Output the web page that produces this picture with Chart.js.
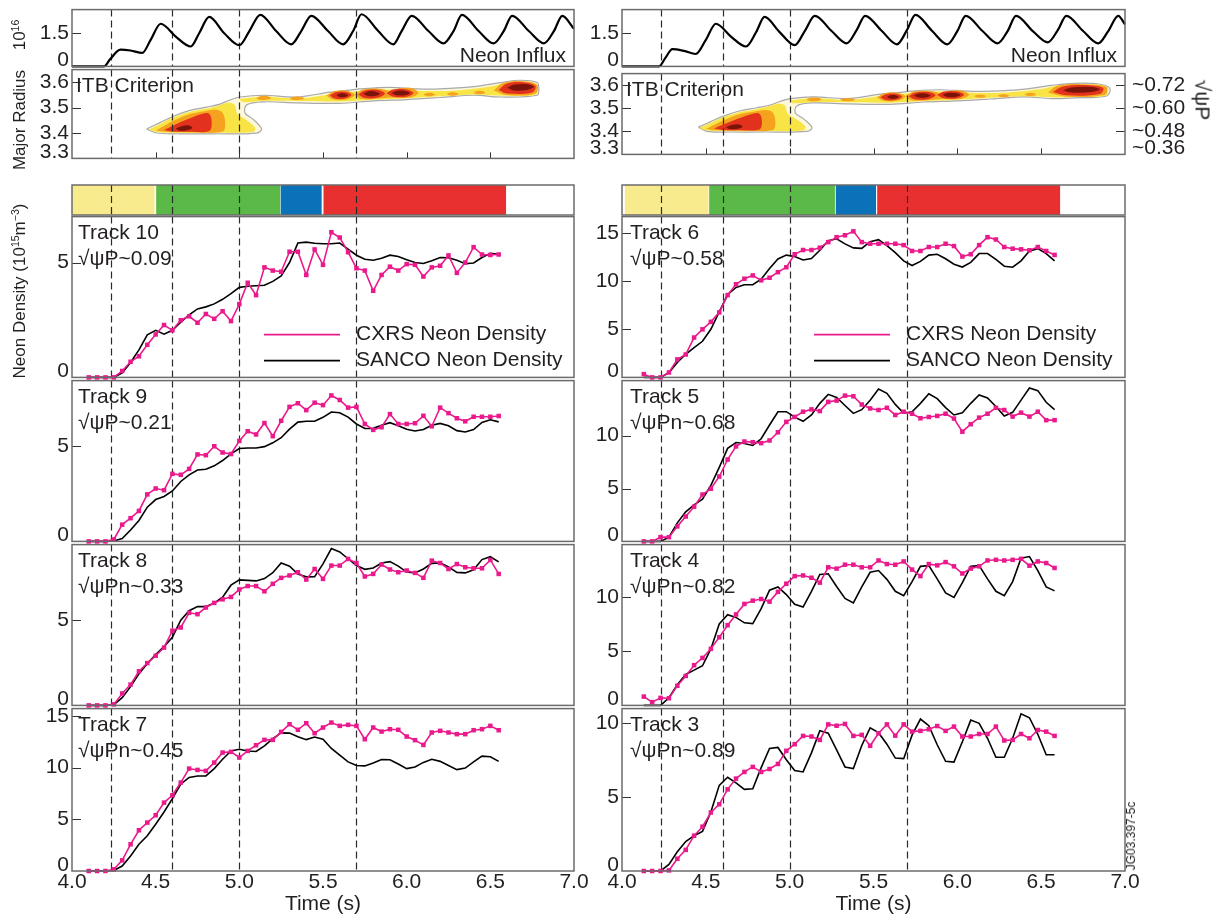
<!DOCTYPE html>
<html><head><meta charset="utf-8">
<script src="https://cdn.jsdelivr.net/npm/chart.js@4.4.1/dist/chart.umd.min.js"></script>
<style>
html,body{margin:0;padding:0;background:#fff;}
#page{position:relative;width:1230px;height:920px;overflow:hidden;font-family:'Liberation Sans',Arial,Helvetica,sans-serif;color:#231f20;}
canvas{position:absolute;}
.rot{position:absolute;white-space:nowrap;line-height:1;transform:translate(-50%,-50%) rotate(-90deg);z-index:5;}
.rot90{position:absolute;white-space:nowrap;line-height:1;transform:translate(-50%,-50%) rotate(90deg);z-index:5;}
sup{font-size:0.62em;vertical-align:0.5em;line-height:0;}
</style></head><body><div id="page">
<div class="rot" style="left:19px;top:35px;font-size:17px">10<sup>16</sup></div>
<div class="rot" style="left:19px;top:120px;font-size:17px">Major Radius</div>
<div class="rot" style="left:19px;top:291px;font-size:17px">Neon Density (10<sup>15</sup>m<sup>−3</sup>)</div>
<div class="rot90" style="left:1203px;top:100px;font-size:21px">√ψP</div>
<div class="rot" style="left:1131px;top:836px;font-size:12px">JG03.397-5c</div>
</div>
<script>
// ---------------- DATA ----------------
const xTickVals = [4.0, 4.5, 5.0, 5.5, 6.0, 6.5, 7.0];
const xTitle = 'Time (s)';
const dashTimes = [4.235, 4.6, 5.0, 5.7];

const influxTimeL = [4.00,4.19,4.23,4.29,4.35,4.42,4.47,4.53,4.62,4.71,4.76,4.82,4.91,5.00,5.06,5.125,5.22,5.31,5.37,5.43,5.53,5.62,5.68,5.73,5.83,5.92,5.97,6.03,6.13,6.22,6.28,6.33,6.43,6.52,6.58,6.63,6.73,6.82,6.88,6.93,7.00];
const influxValL  = [0,0,0.35,0.76,0.72,0.61,1.2,1.93,1.35,0.9,1.5,2.24,1.5,0.96,1.6,2.33,1.6,1.0,1.6,2.29,1.6,1.0,1.6,2.36,1.6,1.0,1.6,2.29,1.6,1.04,1.6,2.33,1.6,1.04,1.6,2.29,1.6,1.04,1.6,2.29,1.7];
const influxTimeR = [4.00,4.22,4.26,4.30,4.37,4.44,4.50,4.56,4.65,4.74,4.80,4.85,4.94,5.03,5.09,5.15,5.25,5.34,5.40,5.45,5.55,5.64,5.70,5.75,5.85,5.94,6.00,6.05,6.15,6.24,6.30,6.35,6.45,6.54,6.60,6.65,6.75,6.84,6.90,6.96,7.00];
const influxValR  = [0,0,0.4,0.78,0.7,0.56,1.2,1.93,1.35,0.9,1.55,2.24,1.55,0.96,1.6,2.29,1.6,1.04,1.65,2.29,1.6,1.0,1.65,2.33,1.6,1.0,1.6,2.29,1.6,1.04,1.6,2.29,1.6,1.09,1.65,2.29,1.6,1.04,1.6,2.29,1.9];

const timeL = [4.10,4.15,4.20,4.25,4.30,4.35,4.40,4.45,4.50,4.55,4.60,4.65,4.70,4.75,4.80,4.85,4.90,4.95,5.00,5.05,5.10,5.15,5.20,5.25,5.30,5.35,5.40,5.45,5.50,5.55,5.60,5.65,5.70,5.75,5.80,5.85,5.90,5.95,6.00,6.05,6.10,6.15,6.20,6.25,6.30,6.35,6.40,6.45,6.50,6.55];
const timeR = [4.13,4.18,4.23,4.28,4.33,4.38,4.43,4.48,4.53,4.58,4.63,4.68,4.73,4.78,4.83,4.88,4.93,4.98,5.03,5.08,5.13,5.18,5.23,5.28,5.33,5.38,5.43,5.48,5.53,5.58,5.63,5.68,5.73,5.78,5.83,5.88,5.93,5.98,6.03,6.08,6.13,6.18,6.23,6.28,6.33,6.38,6.43,6.48,6.53,6.58];

const cxrsT10 = [0,0,0,0,0.28,0.68,0.92,1.42,1.87,2.28, 2.05,2.49,2.66,2.38,2.76,2.55,2.88,2.45,3.19,4.12, 3.58,4.79,4.65,4.60,5.47,5.47,4.46,5.57,4.90,6.32, 6.09,5.45,4.75,4.65,3.77,4.46,4.82,4.65,4.93,4.90, 4.39,4.79,4.86,5.31,4.55,5.0,5.67,5.35,5.33,5.35];
const sancoT10 = [0,0,0,0,0.2,0.65,1.2,1.85,2.05,1.88, 2.05,2.4,2.72,2.98,3.07,3.2,3.4,3.65,3.92,3.97, 3.99,4.01,4.18,4.42,5.0,5.85,5.89,5.84,5.82,5.82, 5.85,5.58,5.32,5.14,5.10,5.19,5.32,5.26,5.12,5.0, 4.96,5.08,5.22,5.21,5.1,4.95,4.98,5.22,5.4,5.36];
const cxrsT9 = [0,0,0,0.1,0.88,1.22,1.60,2.47,2.78,2.69, 3.55,3.50,3.81,4.57,4.53,5.0,4.67,4.59,5.28,5.79, 5.62,6.22,5.53,6.34,7.07,7.26,6.90,7.29,7.16,7.67, 7.43,7.03,7.07,6.17,5.86,6.0,6.69,6.17,6.17,6.21, 6.60,6.05,7.03,6.74,6.47,6.31,6.55,6.55,6.55,6.59];
const sancoT9 = [0,0,0,0.02,0.15,0.6,1.1,1.8,2.2,2.36, 2.65,3.15,3.5,3.75,3.79,3.97,4.25,4.6,4.88,4.91, 4.91,4.98,5.18,5.45,5.9,6.27,6.31,6.31,6.52,6.8, 6.76,6.53,6.17,5.93,5.94,6.1,6.24,6.08,5.89,5.8, 5.88,6.1,6.2,6.08,5.82,5.75,5.88,6.25,6.39,6.28];
const cxrsT8 = [0,0,0,0.06,0.70,1.22,2.0,2.48,2.91,3.39, 4.38,4.57,5.43,5.35,5.74,6.01,6.22,6.36,6.80,7.0, 7.0,6.69,7.13,7.48,7.62,7.81,7.38,8.0,7.42,8.20, 8.20,8.59,8.35,7.56,7.71,8.26,7.97,7.81,7.91,7.77, 7.48,8.49,8.35,8.0,8.29,8.10,8.04,8.04,8.53,7.71];
const sancoT8 = [0,0,0,0.04,0.45,1.1,1.85,2.45,2.98,3.45, 4.0,5.0,5.55,5.8,5.79,6.0,6.35,7.05,7.36,7.33, 7.3,7.44,7.78,8.35,8.16,7.7,7.54,7.55,8.3,9.2, 9.0,8.6,8.2,7.98,8.06,8.35,8.43,8.17,7.82,7.77, 8.0,8.33,8.36,8.12,7.8,7.77,7.95,8.55,8.72,8.42];
const cxrsT7 = [0,0,0,0.16,1.03,2.58,3.94,4.68,5.39,6.61, 7.32,8.55,9.90,9.77,9.68,10.48,11.45,11.52,10.97,11.61, 12.16,12.68,12.68,13.45,14.19,13.65,14.29,13.32,13.87,14.35, 14.03,14.13,14.03,12.74,13.87,13.48,13.71,13.65,13.0,12.65, 12.19,13.39,13.55,13.39,13.23,13.23,13.61,13.71,14.03,13.61];
const sancoT7 = [0,0,0,0.05,0.48,1.45,2.58,3.4,4.52,5.7, 7.0,8.4,9.05,9.18,9.19,9.9,10.8,11.6,11.77,11.6, 11.55,12.1,12.8,13.35,13.33,12.98,12.7,12.95,12.75,11.85, 11.2,10.55,10.2,10.16,10.45,10.78,10.76,10.35,9.9,10.05, 10.5,10.8,10.6,10.2,9.8,9.95,10.55,11.1,11.05,10.6];

const cxrsT6 = [0.34,0,0,0.51,1.87,2.38,4.14,4.99,5.77,6.75, 8.55,9.67,10.25,10.59,10.08,10.35,10.93,11.44,12.79,13.23, 13.23,13.47,14.05,14.56,14.76,15.17,14.05,13.88,13.88,13.88, 13.88,13.74,13.13,13.13,13.54,13.54,13.88,13.64,12.55,12.79, 13.74,14.56,14.32,13.54,13.37,13.30,13.20,13.54,13.13,12.72];
const sancoT6 = [0,0,0,0.5,1.55,2.4,3.1,3.75,5.0,6.8, 8.6,9.35,9.63,9.64,10.2,11.3,12.3,12.7,12.55,12.2, 12.35,13.2,14.2,14.39,13.87,13.45,13.4,14.1,14.3,13.68, 12.96,12.1,11.62,12.05,12.7,12.79,12.32,11.75,11.46,11.95, 12.86,12.86,12.25,11.55,11.44,12.11,13.13,13.37,12.85,12.1];
const cxrsT5 = [0,0,0.40,0.40,1.42,2.35,3.28,4.43,4.98,6.13, 7.74,8.98,9.44,9.38,9.29,9.54,10.31,11.30,11.77,12.26, 12.48,12.32,13.19,13.31,13.78,13.72,12.94,12.57,12.42,12.63, 11.95,12.26,12.07,11.64,11.76,11.86,12.07,11.61,10.37,11.08, 11.70,12.07,12.63,12.42,11.80,12.17,11.80,12.26,11.46,11.46];
const sancoT5 = [0,0,0,0.4,1.75,2.8,3.45,4.0,5.3,7.0, 8.8,9.35,9.25,9.07,9.7,11.0,12.25,12.26,11.75,11.35, 11.95,13.05,13.9,13.6,12.85,12.1,12.45,13.35,14.4,14.0, 12.95,12.12,12.25,13.05,13.95,13.5,12.65,11.95,12.15,13.05, 13.85,13.55,12.75,11.85,12.2,13.35,14.5,14.25,13.15,12.45];
const cxrsT4 = [0.81,0.30,0.69,0.66,1.81,2.71,3.70,4.37,5.21,6.27, 7.38,8.37,9.34,9.64,9.79,9.55,10.45,11.20,11.90,11.96, 11.75,11.30,12.71,12.59,12.95,12.95,12.71,12.71,13.34,13.01, 12.95,13.25,12.50,11.90,13.01,12.89,13.19,12.80,12.14,12.59, 12.80,13.34,13.40,13.34,13.40,13.49,12.86,13.25,13.10,12.65];
const sancoT4 = [0,0,0,0.7,1.9,2.85,3.25,3.65,5.2,7.5, 8.35,8.1,7.6,7.53,8.9,10.6,10.9,10.2,9.3,9.05, 10.5,12.05,12.11,10.95,9.85,9.43,10.9,12.25,12.41,11.6, 10.5,10.1,11.4,12.8,12.86,11.65,10.35,9.94,11.3,12.8, 12.86,11.65,10.5,10.1,11.4,13.55,13.7,12.4,10.9,10.54];
const cxrsT3 = [0,0,0,0.04,0.83,1.43,2.39,3.0,3.96,4.52, 5.53,6.26,6.71,7.05,6.71,6.91,7.25,8.14,8.59,9.15, 9.11,8.88,9.93,9.84,9.96,9.15,9.22,8.48,9.33,9.93, 9.17,9.93,9.44,9.49,9.60,9.82,9.49,9.78,9.11,9.11, 9.28,9.28,9.78,8.84,8.88,9.28,8.99,9.55,9.44,9.15];
const sancoT3 = [0,0,0,0.45,1.3,2.0,2.39,2.68,4.0,5.8, 6.35,5.97,5.53,5.57,7.0,8.3,8.37,7.54,6.8,6.71, 8.0,9.5,9.33,8.21,7.05,6.94,8.5,9.7,9.37,8.59, 7.65,7.61,9.2,10.29,9.84,8.55,7.43,7.38,8.75,10.22, 10.0,8.99,7.7,7.7,8.99,10.65,10.38,9.26,7.87,7.87];

const phaseColors = ['#f8eb8e', '#5bb947', '#0b71b9', '#e7302f'];
const phaseStartL = [4.0, 4.503, 5.247, 5.503];
const phaseEndL   = [4.493, 5.244, 5.492, 6.594];
const phaseStartR = [4.017, 4.52, 5.275, 5.522];
const phaseEndR   = [4.516, 5.27, 5.515, 6.613];

// ITB criterion contour regions: [time, major radius]
const itbOuterL = [[4.446,3.416],[4.526,3.441],[4.605,3.466],[4.705,3.489],[4.805,3.502],[4.884,3.514],[4.944,3.530],[5.004,3.542],[5.143,3.549],[5.343,3.542],[5.542,3.561],[5.661,3.569],[5.72,3.574],[5.90,3.580],[6.06,3.574],[6.20,3.574],[6.40,3.583],[6.56,3.599],[6.68,3.608],[6.78,3.599],[6.79,3.575],[6.78,3.549],[6.56,3.542],[6.40,3.549],[6.20,3.540],[6.00,3.532],[5.80,3.527],[5.60,3.517],[5.343,3.519],[5.143,3.523],[5.044,3.511],[5.034,3.479],[5.083,3.454],[5.133,3.416],[5.104,3.400],[4.845,3.397],[4.645,3.397],[4.506,3.400]];
const itbOuterR = [[4.456,3.418],[4.526,3.441],[4.605,3.466],[4.705,3.489],[4.805,3.502],[4.884,3.514],[4.944,3.530],[5.004,3.542],[5.143,3.549],[5.343,3.542],[5.542,3.561],[5.661,3.569],[5.72,3.574],[5.90,3.580],[6.06,3.574],[6.20,3.574],[6.40,3.583],[6.56,3.599],[6.70,3.608],[6.85,3.604],[6.91,3.585],[6.89,3.553],[6.70,3.545],[6.56,3.542],[6.40,3.549],[6.20,3.540],[6.00,3.532],[5.80,3.527],[5.60,3.517],[5.343,3.519],[5.143,3.523],[5.044,3.511],[5.034,3.479],[5.083,3.454],[5.133,3.416],[5.104,3.400],[4.845,3.397],[4.645,3.397],[4.506,3.400]];
const itbYellowMain = [[4.46,3.414],[4.53,3.437],[4.6,3.46],[4.7,3.483],[4.8,3.496],[4.87,3.507],[4.93,3.519],[4.97,3.512],[4.99,3.475],[5.04,3.452],[5.095,3.42],[5.08,3.404],[4.85,3.401],[4.6,3.401],[4.5,3.405]];
const itbYellowBandL = [[5.0,3.534],[5.15,3.543],[5.35,3.536],[5.55,3.553],[5.7,3.564],[5.9,3.572],[6.1,3.566],[6.3,3.568],[6.5,3.583],[6.6,3.598],[6.7,3.601],[6.77,3.593],[6.775,3.553],[6.6,3.547],[6.4,3.552],[6.2,3.545],[6.0,3.537],[5.8,3.531],[5.6,3.524],[5.4,3.526],[5.15,3.527],[5.02,3.522]];
const itbYellowBandR = [[5.0,3.534],[5.15,3.543],[5.35,3.536],[5.55,3.553],[5.7,3.564],[5.9,3.572],[6.1,3.566],[6.3,3.568],[6.5,3.583],[6.6,3.598],[6.75,3.602],[6.88,3.596],[6.89,3.556],[6.7,3.549],[6.6,3.547],[6.4,3.552],[6.2,3.545],[6.0,3.537],[5.8,3.531],[5.6,3.524],[5.4,3.526],[5.15,3.527],[5.02,3.522]];
const itbOrange = [
  [[4.5,3.41],[4.56,3.432],[4.62,3.452],[4.7,3.474],[4.8,3.487],[4.86,3.492],[4.9,3.48],[4.915,3.44],[4.9,3.406],[4.7,3.403],[4.55,3.405]],
  [[5.1,3.538],[5.13,3.546],[5.17,3.545],[5.19,3.537],[5.16,3.531],[5.12,3.531]],
  [[5.3,3.537],[5.33,3.543],[5.37,3.542],[5.39,3.536],[5.36,3.531],[5.32,3.531]],
  [[5.52,3.548],[5.57,3.566],[5.65,3.566],[5.69,3.55],[5.64,3.532],[5.56,3.532]],
  [[5.69,3.552],[5.74,3.572],[5.85,3.574],[5.9,3.566],[5.96,3.576],[6.03,3.576],[6.07,3.558],[6.02,3.54],[5.9,3.54],[5.84,3.536],[5.73,3.534]],
  [[6.1,3.552],[6.12,3.558],[6.15,3.558],[6.17,3.552],[6.15,3.546],[6.12,3.546]],
  [[6.24,3.554],[6.26,3.56],[6.29,3.56],[6.31,3.554],[6.29,3.548],[6.26,3.548]],
  [[6.4,3.56],[6.42,3.566],[6.45,3.566],[6.47,3.56],[6.45,3.554],[6.42,3.554]]
];
const itbOrangeTailL = [[6.52,3.568],[6.58,3.598],[6.7,3.604],[6.78,3.59],[6.77,3.556],[6.6,3.55]];
const itbOrangeTailR = [[6.54,3.568],[6.6,3.597],[6.75,3.604],[6.89,3.592],[6.88,3.558],[6.65,3.55]];
const itbRed = [
  [[4.55,3.412],[4.6,3.428],[4.66,3.446],[4.72,3.462],[4.78,3.476],[4.82,3.476],[4.835,3.44],[4.82,3.408],[4.7,3.405],[4.6,3.406]],
  [[5.54,3.548],[5.58,3.562],[5.64,3.562],[5.67,3.55],[5.63,3.536],[5.57,3.536]],
  [[5.71,3.552],[5.75,3.568],[5.83,3.57],[5.87,3.556],[5.83,3.54],[5.75,3.538]],
  [[5.88,3.557],[5.92,3.572],[6.0,3.572],[6.04,3.558],[6.0,3.543],[5.92,3.543]]
];
const itbRedTailL = [[6.55,3.57],[6.6,3.595],[6.7,3.6],[6.77,3.585],[6.75,3.56],[6.6,3.556]];
const itbRedTailR = [[6.57,3.57],[6.63,3.594],[6.78,3.6],[6.87,3.588],[6.85,3.562],[6.65,3.556]];
const itbDark = [
  [[4.62,3.418],[4.66,3.428],[4.7,3.43],[4.72,3.42],[4.68,3.41],[4.64,3.41]],
  [[5.58,3.549],[5.6,3.556],[5.63,3.556],[5.65,3.549],[5.63,3.542],[5.6,3.542]],
  [[5.74,3.555],[5.77,3.564],[5.81,3.564],[5.84,3.555],[5.81,3.546],[5.77,3.546]],
  [[5.91,3.558],[5.94,3.566],[5.99,3.566],[6.02,3.558],[5.99,3.549],[5.94,3.549]]
];
const itbDarkTailL = [[6.6,3.578],[6.64,3.59],[6.72,3.592],[6.76,3.582],[6.72,3.57],[6.64,3.568]];
const itbDarkTailR = [[6.63,3.578],[6.68,3.59],[6.8,3.592],[6.85,3.582],[6.8,3.57],[6.68,3.568]];
const itbRightLabels = {'3.6':'~0.72','3.5':'~0.60','3.4':'~0.48','3.3':'~0.36'};

// ---------------- STYLE / LAYOUT ----------------
const FONT = "'Liberation Sans', Arial, Helvetica, sans-serif";
const TXT = '#231f20';
const MAG = '#ea1a8c';
const FRAME = '#6b6b6b';
const PAD = 14, XAX = 46;
const COLS = {
  L: {canvasLeft: 0, width: 600, plotLeft: 72, plotRight: 574},
  R: {canvasLeft: 580, width: 650, plotLeft: 622, plotRight: 1125}
};
const page = document.getElementById('page');

function makeCanvas(left, top, w, h) {
  const c = document.createElement('canvas');
  c.width = w; c.height = h;
  c.style.left = left + 'px'; c.style.top = top + 'px';
  c.style.width = w + 'px'; c.style.height = h + 'px';
  page.insertBefore(c, page.firstChild);
  return c.getContext('2d');
}

function drawDashes(chart) {
  const {ctx, chartArea: a} = chart; const x = chart.scales.x;
  ctx.save(); ctx.strokeStyle = '#2b2b2b'; ctx.lineWidth = 1.2; ctx.setLineDash([7, 4]);
  for (const t of dashTimes) {
    const px = Math.round(x.getPixelForValue(t)) + 0.5;
    ctx.beginPath(); ctx.moveTo(px, a.top); ctx.lineTo(px, a.bottom); ctx.stroke();
  }
  ctx.restore();
}

function deco(p) {
  return {
    id: 'deco',
    beforeDatasetsDraw(chart) { if (!p.dashTop) drawDashes(chart); },
    afterDatasetsDraw(chart) {
      if (p.dashTop) drawDashes(chart);
      const {ctx, chartArea: a} = chart;
      ctx.save();
      ctx.setLineDash([]);
      ctx.strokeStyle = '#333'; ctx.lineWidth = 1;
      for (const id of ['y', 'y2']) {
        const s = chart.scales[id];
        if (!s || !s.options.display || !p.yTicks) continue;
        for (const t of s.ticks) {
          if (Math.abs(t.value - s.min) < 1e-6) continue;
          const py = Math.round(s.getPixelForValue(t.value)) + 0.5;
          ctx.beginPath();
          if (id === 'y') { ctx.moveTo(a.left, py); ctx.lineTo(a.left + 9, py); }
          else { ctx.moveTo(a.right, py); ctx.lineTo(a.right - 9, py); }
          ctx.stroke();
        }
        if (p.yTicks.some(v => Math.abs(v - s.min) < 1e-6)) {
          ctx.fillStyle = TXT; ctx.font = '21px ' + FONT; ctx.textBaseline = 'middle';
          if (id === 'y') { ctx.textAlign = 'right'; ctx.fillText(p.yFmt(s.min), a.left - 3, a.bottom - 6); }
          else { ctx.textAlign = 'left'; ctx.fillText(p.y2Fmt(s.min), a.right + 7, a.bottom - 6); }
        }
      }
      if (p.xInTicks) {
        const x = chart.scales.x;
        for (const v of p.xInTicks) {
          const px = Math.round(x.getPixelForValue(v)) + 0.5;
          ctx.beginPath(); ctx.moveTo(px, a.bottom); ctx.lineTo(px, a.bottom - 6); ctx.stroke();
        }
      }
      ctx.strokeStyle = FRAME; ctx.lineWidth = 1.5;
      ctx.strokeRect(a.left, a.top, a.right - a.left, a.bottom - a.top);
      ctx.fillStyle = TXT; ctx.font = '21px ' + FONT; ctx.textBaseline = 'middle';
      for (const tx of (p.texts || [])) {
        ctx.textAlign = tx.align || 'left';
        const xx = tx.align === 'right' ? a.right - tx.dx : a.left + tx.dx;
        ctx.fillText(tx.text, xx, a.top + tx.dy);
      }
      if (p.legend) {
        const items = [[MAG, 'CXRS Neon Density', 118], ['#000', 'SANCO Neon Density', 144]];
        for (const [c, t, dy] of items) {
          ctx.strokeStyle = c; ctx.lineWidth = 1.6;
          ctx.beginPath(); ctx.moveTo(a.left + 192, a.top + dy); ctx.lineTo(a.left + 268, a.top + dy); ctx.stroke();
          ctx.fillStyle = TXT; ctx.textAlign = 'left';
          ctx.fillText(t, a.left + 284, a.top + dy);
        }
      }
      ctx.restore();
    }
  };
}

function yAxis(min, max, ticksArr, fmt, position, width) {
  return {
    type: 'linear', position, min, max,
    grid: {display: false, drawTicks: false}, border: {display: false},
    afterBuildTicks: s => { s.ticks = ticksArr.map(v => ({value: v})); },
    afterFit: s => { s.width = width; },
    ticks: {padding: position === 'left' ? 3 : 7, color: TXT, font: {family: FONT, size: 21}, autoSkip: false,
      callback: v => (Math.abs(v - min) < 1e-6 ? '' : fmt(v))}
  };
}

function linePanel(p) {
  const col = COLS[p.col];
  const hasX = !!p.xAxis;
  const ctx = makeCanvas(col.canvasLeft, p.top - PAD, col.width, p.bottom - p.top + PAD + (hasX ? XAX : PAD));
  const yW = col.plotLeft - col.canvasLeft;
  const rW = col.width - (col.plotRight - col.canvasLeft);
  const xScale = {type: 'linear', min: 4, max: 7, display: hasX,
    grid: {display: false, drawTicks: false}, border: {display: false}};
  if (hasX) {
    Object.assign(xScale, {
      afterBuildTicks: s => { s.ticks = xTickVals.map(v => ({value: v})); },
      afterFit: s => { s.height = XAX; },
      ticks: {padding: 0, color: TXT, font: {family: FONT, size: 21, lineHeight: 1.1}, maxRotation: 0, autoSkip: false,
        callback: v => Number(v).toFixed(1)},
      title: {display: true, text: xTitle, color: TXT, font: {family: FONT, size: 21, lineHeight: 1.2}, padding: 0}
    });
  }
  const scales = {x: xScale, y: yAxis(p.yMin, p.yMax, p.yTicks, p.yFmt, 'left', yW)};
  if (p.y2Fmt) scales.y2 = yAxis(p.yMin, p.yMax, p.yTicks, p.y2Fmt, 'right', rW);
  new Chart(ctx, {
    type: 'line',
    data: {datasets: p.datasets},
    options: {
      responsive: false, animation: false, devicePixelRatio: 1, events: [],
      layout: {padding: {left: 0, right: p.y2Fmt ? 0 : rW, top: PAD, bottom: hasX ? 0 : PAD}},
      plugins: {legend: {display: false}, tooltip: {enabled: false}},
      scales
    },
    plugins: [deco(p)]
  });
}

function barPanel(p) {
  const col = COLS[p.col];
  const ctx = makeCanvas(col.canvasLeft, p.top - PAD, col.width, p.bottom - p.top + 2 * PAD);
  new Chart(ctx, {
    type: 'bar',
    data: {labels: ['phase'], datasets: p.starts.map((s, i) => ({
      data: [[s, p.ends[i]]], backgroundColor: phaseColors[i], borderWidth: 0,
      barPercentage: 1, categoryPercentage: 1, grouped: false, inflateAmount: 0}))},
    options: {
      indexAxis: 'y', responsive: false, animation: false, devicePixelRatio: 1, events: [],
      layout: {padding: {left: col.plotLeft - col.canvasLeft, right: col.width - (col.plotRight - col.canvasLeft), top: PAD, bottom: PAD}},
      plugins: {legend: {display: false}, tooltip: {enabled: false}},
      scales: {x: {type: 'linear', min: 4, max: 7, display: false}, y: {display: false}}
    },
    plugins: [deco({dashTop: true})]
  });
}

const fmt1 = v => Number(v).toFixed(1);
const fmtN = v => String(Math.round(v * 10) / 10);

function itbSets(isL) {
  const layers = [
    {polys: [isL ? itbOuterL : itbOuterR], color: '#fdf8da', border: '#a9a9a9'},
    {polys: [itbYellowMain, isL ? itbYellowBandL : itbYellowBandR], color: '#f9e445'},
    {polys: itbOrange.concat([isL ? itbOrangeTailL : itbOrangeTailR]), color: '#f5a31f'},
    {polys: itbRed.concat([isL ? itbRedTailL : itbRedTailR]), color: '#e2321d'},
    {polys: itbDark.concat([isL ? itbDarkTailL : itbDarkTailR]), color: '#7a140a'}
  ];
  const sets = [];
  for (const L of layers) for (const pts of L.polys) {
    sets.push({data: pts.concat([pts[0]]).map(([x, y]) => ({x, y})), fill: 'shape',
      backgroundColor: L.color, borderColor: L.border || 'rgba(0,0,0,0)', borderWidth: L.border ? 1.2 : 0.1,
      pointRadius: 0, tension: 0.35, clip: false});
  }
  sets.forEach((s, i) => { s.order = sets.length - i; });
  return sets;
}

function influxSet(t, v) {
  return [{data: t.map((x, i) => ({x, y: v[i]})), borderColor: '#000', borderWidth: 2.2, pointRadius: 0,
    cubicInterpolationMode: 'monotone', clip: false}];
}

function trackSets(time, cx, sa) {
  return [
    {data: time.map((t, i) => ({x: t, y: cx[i]})), borderColor: MAG, backgroundColor: MAG, borderWidth: 1.6,
      pointStyle: 'rect', pointRadius: 3.2, pointBorderWidth: 0, tension: 0, clip: false, order: 0},
    {data: time.map((t, i) => ({x: t, y: sa[i]})), borderColor: '#000', borderWidth: 1.6, pointRadius: 0,
      tension: 0, clip: false, order: 1}
  ];
}

const TRACK_Y = [[215, 379], [379, 543], [543, 707], [707, 871]];

function buildColumn(c) {
  const isL = c === 'L';
  linePanel({col: c, top: 8, bottom: 68, yMin: 0, yMax: 2.57, yTicks: [0, 1.5], yFmt: fmtN,
    datasets: influxSet(isL ? influxTimeL : influxTimeR, isL ? influxValL : influxValR),
    texts: [{text: 'Neon Influx', align: 'right', dx: 8, dy: 47}]});
  linePanel({col: c, top: 68, bottom: 160, yMin: 3.30, yMax: 3.65, yTicks: [3.3, 3.4, 3.5, 3.6], yFmt: fmt1,
    y2Fmt: isL ? null : (v => itbRightLabels[Number(v).toFixed(1)]),
    datasets: itbSets(isL), dashTop: true, xInTicks: [4.5, 5.0, 5.5, 6.0, 6.5],
    texts: [{text: 'ITB Criterion', dx: 4, dy: 17}]});
  barPanel({col: c, top: 185, bottom: 215, starts: isL ? phaseStartL : phaseStartR, ends: isL ? phaseEndL : phaseEndR});
  const tracks = isL ? [
    {name: 'Track 10', psi: '√ψP~0.09', cx: cxrsT10, sa: sancoT10, max: 7.0, ticks: [0, 5]},
    {name: 'Track 9', psi: '√ψP~0.21', cx: cxrsT9, sa: sancoT9, max: 8.45, ticks: [0, 5]},
    {name: 'Track 8', psi: '√ψPn~0.33', cx: cxrsT8, sa: sancoT8, max: 9.43, ticks: [0, 5]},
    {name: 'Track 7', psi: '√ψPn~0.45', cx: cxrsT7, sa: sancoT7, max: 15.7, ticks: [0, 5, 10, 15]}
  ] : [
    {name: 'Track 6', psi: '√ψP~0.58', cx: cxrsT6, sa: sancoT6, max: 16.7, ticks: [0, 5, 10, 15]},
    {name: 'Track 5', psi: '√ψPn~0.68', cx: cxrsT5, sa: sancoT5, max: 15.2, ticks: [0, 5, 10]},
    {name: 'Track 4', psi: '√ψPn~0.82', cx: cxrsT4, sa: sancoT4, max: 14.8, ticks: [0, 5, 10]},
    {name: 'Track 3', psi: '√ψPn~0.89', cx: cxrsT3, sa: sancoT3, max: 11.0, ticks: [0, 5, 10]}
  ];
  const dx = isL ? 6 : 8;
  tracks.forEach((tr, i) => {
    linePanel({col: c, top: TRACK_Y[i][0], bottom: TRACK_Y[i][1], yMin: 0, yMax: tr.max, yTicks: tr.ticks, yFmt: fmtN,
      datasets: trackSets(isL ? timeL : timeR, tr.cx, tr.sa), xAxis: i === 3, legend: i === 0,
      texts: [{text: tr.name, dx, dy: 17}, {text: tr.psi, dx, dy: 43}]});
  });
}
buildColumn('L');
buildColumn('R');
</script>
</body></html>
